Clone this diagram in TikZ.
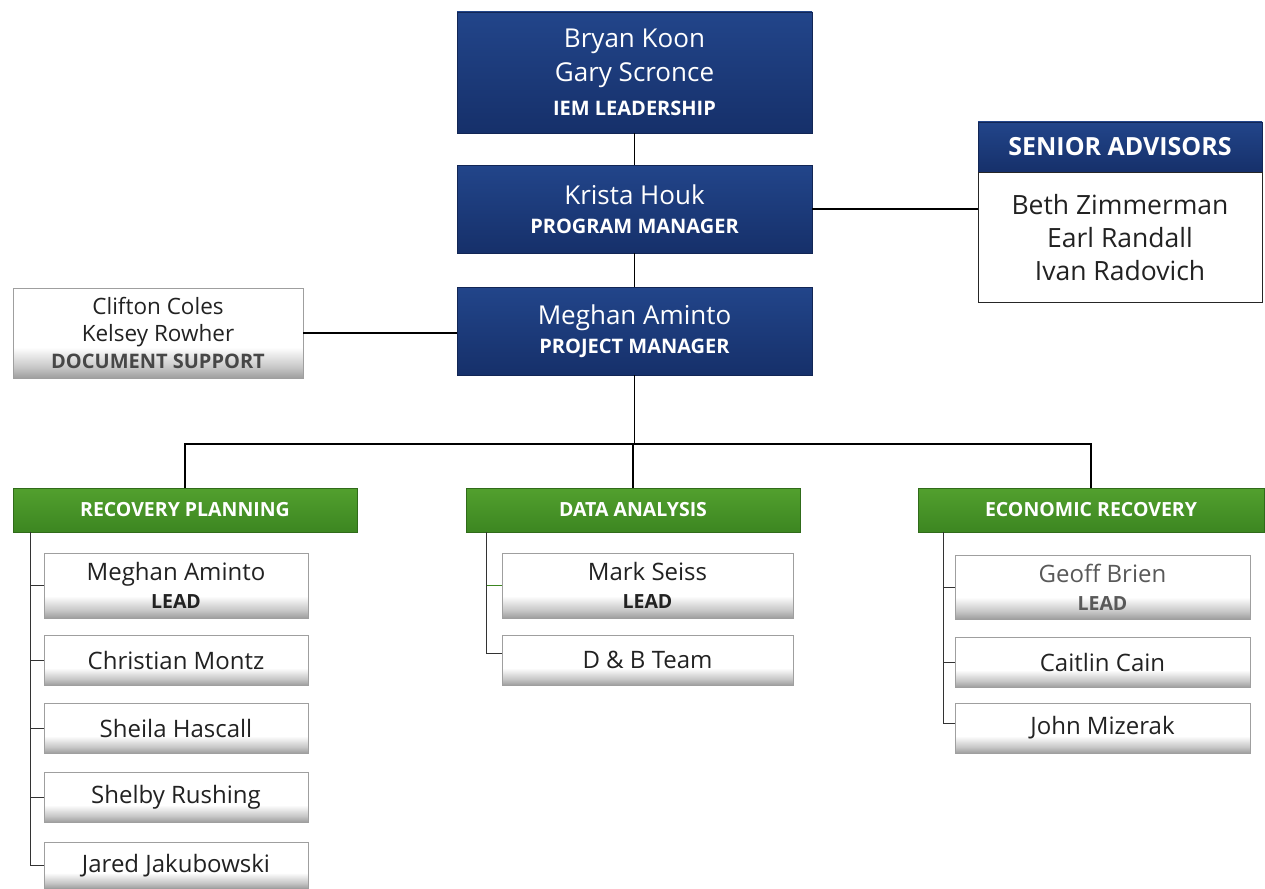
\documentclass[tikz,border=0pt]{standalone}
\usepackage{fontspec}
\setmainfont{Open Sans}
\definecolor{navyT}{HTML}{22458A}
\definecolor{navyB}{HTML}{16306A}
\definecolor{greenT}{HTML}{52A02E}
\definecolor{greenB}{HTML}{3C8621}
\definecolor{txt}{HTML}{222222}
\pgfdeclareverticalshading{memshade}{100bp}{color(0bp)=(black!38); color(25bp)=(black!38); color(31bp)=(black!22); color(42bp)=(white); color(100bp)=(white)}
\begin{document}
\begin{tikzpicture}[x=1pt,y=-1pt,
  navybox/.style={draw=navyB!80!black, line width=0.8pt, top color=navyT, bottom color=navyB, text=white, inner sep=0pt, align=center, minimum width=355pt},
  greenbox/.style={draw=greenB!80!black, line width=0.8pt, top color=greenT, bottom color=greenB, text=white, inner sep=0pt, align=center, minimum height=44pt, font=\fontsize{19.5}{22}\selectfont\bfseries},
  member/.style={draw=gray!75, line width=0.8pt, shading=memshade, text=txt, inner sep=0pt, align=center, font=\fontsize{24}{28}\selectfont},
  conn/.style={draw=black, line width=1.1pt},
  tree/.style={draw=black!80, line width=0.9pt}
]
\useasboundingbox (0,0) rectangle (1265,888);

% top chain
\node[navybox, minimum height=121pt, font=\fontsize{26}{34}\selectfont] (lead) at (634.5,72.5)
  {Bryan Koon\\Gary Scronce\\{\fontsize{20}{34}\selectfont\bfseries IEM LEADERSHIP}};
\node[navybox, minimum height=88pt, font=\fontsize{26}{29}\selectfont] (pgm) at (634.5,209)
  {Krista Houk\\{\fontsize{20}{29}\selectfont\bfseries PROGRAM MANAGER}};
\node[navybox, minimum height=88pt, font=\fontsize{26}{29}\selectfont] (prj) at (634.5,331)
  {Meghan Aminto\\{\fontsize{20}{29}\selectfont\bfseries PROJECT MANAGER}};

% senior advisors
\node[navybox, minimum width=284pt, minimum height=50pt, font=\fontsize{25}{28}\selectfont\bfseries] (sah) at (1120,147) {SENIOR ADVISORS};
\node[draw=black!85, line width=1pt, fill=white, minimum width=284pt, minimum height=130pt, inner sep=0pt, align=center, text=txt, font=\fontsize{26.5}{33}\selectfont, anchor=north] (sab) at (sah.south) {Beth Zimmerman\\Earl Randall\\Ivan Radovich};

% document support
\node[member, minimum width=290pt, minimum height=90pt, font=\fontsize{22.5}{27}\selectfont] (doc) at (158,333)
  {Clifton Coles\\Kelsey Rowher\\{\fontsize{20}{27}\selectfont\bfseries\color{black!72} DOCUMENT SUPPORT}};

% group headers
\node[greenbox, minimum width=344pt] (rp) at (185,510) {RECOVERY PLANNING};
\node[greenbox, minimum width=334pt] (da) at (633,510) {DATA ANALYSIS};
\node[greenbox, minimum width=346pt] (er) at (1091,510) {ECONOMIC RECOVERY};

% recovery planning members
\node[member, minimum width=264pt, minimum height=65pt] (rp1) at (176,585.5) {Meghan Aminto\\{\fontsize{19.5}{28}\selectfont\bfseries LEAD}};
\node[member, minimum width=264pt, minimum height=50pt] (rp2) at (176,660) {Christian Montz};
\node[member, minimum width=264pt, minimum height=50pt] (rp3) at (176,728) {Sheila Hascall};
\node[member, minimum width=264pt, minimum height=50pt] (rp4) at (176,797) {Shelby Rushing};
\node[member, minimum width=264pt, minimum height=46pt, anchor=north] (rp5) at (176,842) {Jared Jakubowski};

% data analysis members
\node[member, minimum width=291pt, minimum height=65pt] (da1) at (647.5,585.5) {Mark Seiss\\{\fontsize{19.5}{28}\selectfont\bfseries LEAD}};
\node[member, minimum width=291pt, minimum height=50pt] (da2) at (647.5,660) {D \& B Team};

% economic recovery members
\node[member, minimum width=295pt, minimum height=64pt] (er1) at (1102.5,587) {{\color{black!65}Geoff Brien}\\{\fontsize{19.5}{28}\selectfont\bfseries\color{black!65} LEAD}};
\node[member, minimum width=295pt, minimum height=50pt] (er2) at (1102.5,662) {Caitlin Cain};
\node[member, minimum width=295pt, minimum height=50pt] (er3) at (1102.5,728) {John Mizerak};

% main connectors
\draw[conn] (lead.south) -- (pgm.north);
\draw[conn] (pgm.south) -- (prj.north);
\draw[conn] (pgm.east) -- (sab.west |- pgm.east);
\draw[conn] (doc.east) -- (prj.west |- doc.east);
\coordinate (bus) at (634.5,444);
\draw[conn] (prj.south) -- (bus);
\draw[conn] (rp.north) |- (bus) -| (er.north);
\draw[conn] (bus) -| (da.north);

% trees
\coordinate (rpt) at ([xshift=18pt]rp.south west);
\coordinate (dat) at ([xshift=21pt]da.south west);
\coordinate (ert) at ([xshift=26pt]er.south west);
\draw[tree] (rpt) |- (rp5.west);
\foreach \m in {rp1,rp2,rp3,rp4} \draw[tree] (rpt |- \m.west) -- (\m.west);
\draw[tree] (dat) |- ([yshift=7pt]da2.west);
\draw[tree, draw=greenB] (dat |- da1.west) -- (da1.west);
\draw[tree] (ert) |- ([yshift=5pt]er3.west);
\foreach \m in {er1,er2} \draw[tree] (ert |- \m.west) -- (\m.west);
\end{tikzpicture}
\end{document}
